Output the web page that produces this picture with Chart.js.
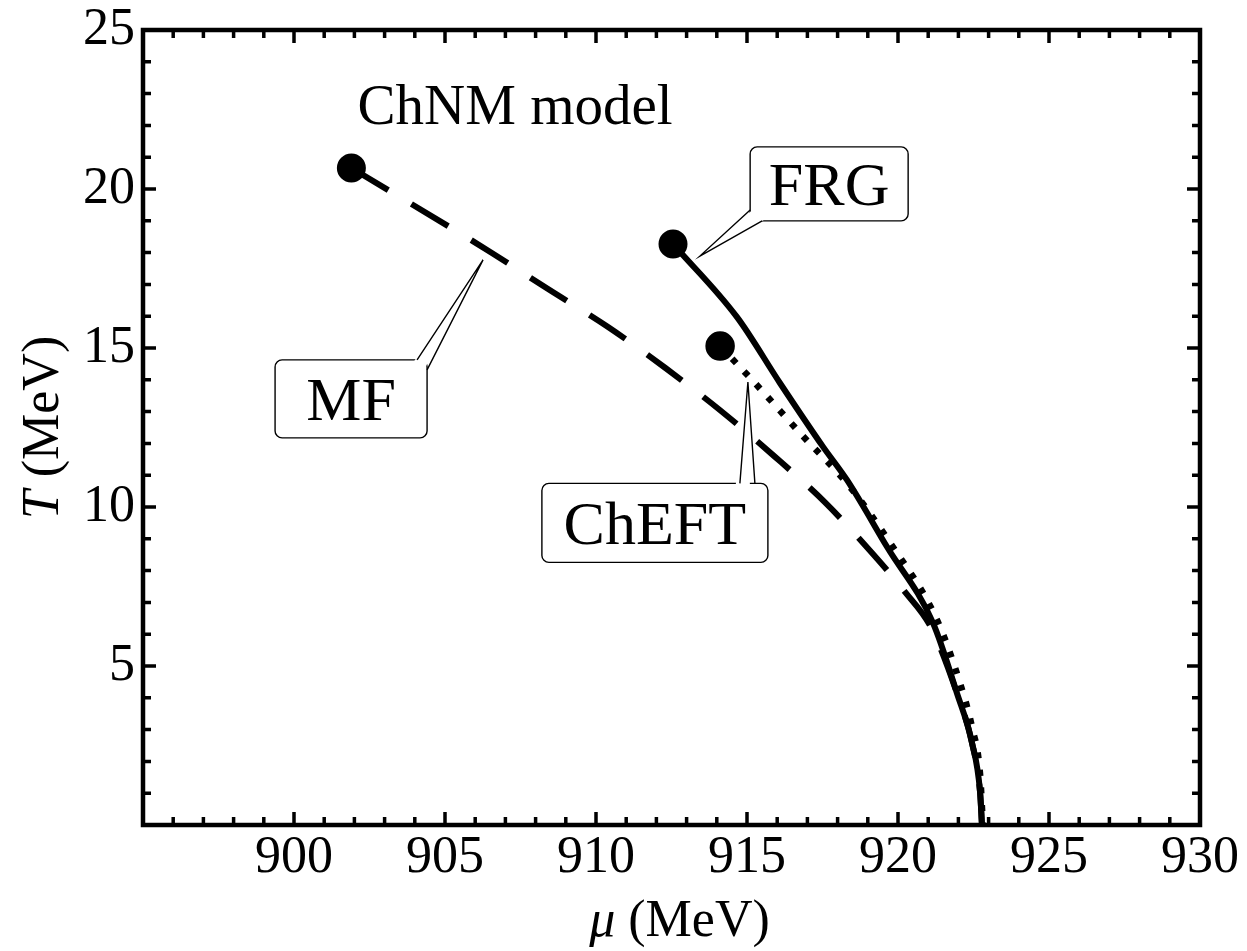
<!DOCTYPE html>
<html>
<head>
<meta charset="utf-8">
<title>ChNM model phase boundary</title>
<script src="https://cdn.jsdelivr.net/npm/chart.js@4.4.0/dist/chart.umd.min.js"></script>
<style>
  html, body { margin: 0; padding: 0; background: #fff; }
  #wrap { width: 1247px; height: 951px; }
</style>
</head>
<body>
<div id="wrap"><canvas id="chart"></canvas></div>
<script>
// Values: chemical potential mu (MeV) vs temperature T (MeV)

// mean-field (dashed)
const mfMu = [901.9, 906.5, 908.4, 910.4, 912.3, 914.1, 915.9, 917.6, 919.2, 920.23, 921.1, 921.95, 922.45, 922.72, 922.78];
const mfT  = [20.66, 18.02, 16.86, 15.66, 14.37, 13.05, 11.60, 10.13, 8.49, 7.33, 6.2, 4.15, 2.58, 1.0, 0];

// functional renormalization group (solid)
const frgMu = [912.55, 914.67, 916.09, 917.52, 918.31, 919.64, 921.16, 921.95, 922.45, 922.72, 922.78];
const frgT  = [18.27, 15.97, 13.90, 11.89, 10.85, 8.74, 6.35, 4.15, 2.58, 1.01, 0];

// chiral EFT (dotted)
const cheftMu = [914.11, 915.26, 916.82, 918.41, 919.74, 921.29, 922.05, 922.45, 922.72, 922.81];
const cheftT  = [15.06, 13.90, 12.26, 10.63, 8.87, 6.45, 4.47, 3.08, 1.57, 0];

// tick labels
const muTicks = [900, 905, 910, 915, 920, 925, 930];
const tTicks = [5, 10, 15, 20, 25];

const SERIF = '"Liberation Serif", "DejaVu Serif", serif';

const toPoints = (xs, ys) => xs.map((x, i) => ({ x: x, y: ys[i] }));

// annotation boxes, anchored in data coordinates
const callouts = [
  { text: 'MF', tip: [906.26, 17.77], box: [901.89, 13.40], half: [76, 39], base: [[66, -39], [76, -29]] },
  { text: 'FRG', tip: [913.44, 17.89], box: [917.72, 20.16], half: [79, 37], base: [[-79, 26], [-67, 37]] },
  { text: 'ChEFT', tip: [915.03, 13.93], box: [911.95, 9.50], half: [113, 39.5], base: [[85, -39.5], [100, -39.5]] }
];

function drawCallout(ctx, xs, ys, c) {
  const tx = xs.getPixelForValue(c.tip[0]);
  const ty = ys.getPixelForValue(c.tip[1]);
  const cx = xs.getPixelForValue(c.box[0]);
  const cy = ys.getPixelForValue(c.box[1]);
  const hw = c.half[0], hh = c.half[1];
  const b = c.base.map(p => [cx + p[0], cy + p[1]]);

  ctx.beginPath();
  ctx.roundRect(cx - hw, cy - hh, 2 * hw, 2 * hh, 7);
  ctx.fillStyle = '#fff';
  ctx.fill();
  ctx.lineWidth = 1.4;
  ctx.strokeStyle = '#000';
  ctx.stroke();

  // white wedge hides the box border under the pointer
  const ib = b.map(p => [p[0] + (cx - p[0]) * 0.05, p[1] + (cy - p[1]) * 0.05]);
  ctx.beginPath();
  ctx.moveTo(tx, ty);
  ctx.lineTo(ib[0][0], ib[0][1]);
  ctx.lineTo(ib[1][0], ib[1][1]);
  ctx.closePath();
  ctx.fill();

  ctx.beginPath();
  ctx.moveTo(b[0][0], b[0][1]);
  ctx.lineTo(tx, ty);
  ctx.lineTo(b[1][0], b[1][1]);
  ctx.stroke();

  ctx.fillStyle = '#000';
  ctx.font = '62px ' + SERIF;
  ctx.textAlign = 'center';
  ctx.textBaseline = 'alphabetic';
  ctx.fillText(c.text, cx, cy + 21);
}

// draws mixed italic / upright text centred on x
function mixedText(ctx, parts, x, y) {
  let w = 0;
  parts.forEach(p => { ctx.font = p.font; w += ctx.measureText(p.text).width; });
  let pos = x - w / 2;
  parts.forEach(p => {
    ctx.font = p.font;
    ctx.fillText(p.text, pos, y);
    pos += ctx.measureText(p.text).width;
  });
}

// frame, inward ticks on all four sides, labels and axis titles
const framePlugin = {
  id: 'frame',
  afterDatasetsDraw(chart) {
    const { ctx, chartArea: a, scales: { x, y } } = chart;
    ctx.save();
    ctx.strokeStyle = '#000';
    ctx.lineCap = 'butt';

    ctx.lineWidth = 3.5;
    for (let v = Math.ceil(x.min); v <= x.max; v++) {
      const px = x.getPixelForValue(v);
      const len = v % 5 === 0 ? 13 : 8;
      ctx.beginPath();
      ctx.moveTo(px, a.bottom); ctx.lineTo(px, a.bottom - len);
      ctx.moveTo(px, a.top); ctx.lineTo(px, a.top + len);
      ctx.stroke();
    }
    for (let v = Math.ceil(y.min); v <= y.max; v++) {
      const py = y.getPixelForValue(v);
      const len = v % 5 === 0 ? 13 : 8;
      ctx.beginPath();
      ctx.moveTo(a.left, py); ctx.lineTo(a.left + len, py);
      ctx.moveTo(a.right, py); ctx.lineTo(a.right - len, py);
      ctx.stroke();
    }

    ctx.lineWidth = 4.5;
    ctx.strokeRect(a.left, a.top, a.right - a.left, a.bottom - a.top);

    ctx.fillStyle = '#000';
    ctx.font = '57px ' + SERIF;
    ctx.textAlign = 'center';
    ctx.textBaseline = 'alphabetic';
    ctx.fillText('ChNM model', x.getPixelForValue(907.32), y.getPixelForValue(22.05));

    callouts.forEach(c => drawCallout(ctx, x, y, c));

    // axis titles
    ctx.fillStyle = '#000';
    ctx.textAlign = 'left';
    ctx.textBaseline = 'alphabetic';
    mixedText(ctx, [
      { text: 'μ', font: 'italic 52px ' + SERIF },
      { text: ' (MeV)', font: '52px ' + SERIF }
    ], (a.left + a.right) / 2 + 8, 936);

    ctx.translate(58, (a.top + a.bottom) / 2);
    ctx.rotate(-Math.PI / 2);
    mixedText(ctx, [
      { text: 'T', font: 'italic 52px ' + SERIF },
      { text: ' (MeV)', font: '52px ' + SERIF }
    ], 0, 0);
    ctx.restore();
  }
};

const startDot = ctx => (ctx.dataIndex === 0 ? 11.5 : 0);

new Chart(document.getElementById('chart'), {
  type: 'line',
  data: {
    datasets: [
      {
        label: 'FRG',
        data: toPoints(frgMu, frgT),
        borderColor: '#000',
        borderWidth: 6
      },
      {
        label: 'ChEFT',
        data: toPoints(cheftMu, cheftT),
        borderColor: '#000',
        borderWidth: 6.5,
        borderDash: [6, 11.5]
      },
      {
        label: 'MF',
        data: toPoints(mfMu, mfT),
        borderColor: '#000',
        borderWidth: 6,
        borderDash: [43, 27]
      }
    ]
  },
  options: {
    responsive: true,
    maintainAspectRatio: false,
    animation: false,
    layout: { padding: { top: 30, right: 47, left: 0, bottom: 0 } },
    plugins: {
      legend: { display: false },
      tooltip: { enabled: false }
    },
    elements: {
      line: { cubicInterpolationMode: 'monotone', fill: false, borderCapStyle: 'butt' },
      point: {
        radius: startDot,
        hoverRadius: startDot,
        backgroundColor: '#000',
        borderWidth: 0
      }
    },
    scales: {
      x: {
        type: 'linear',
        min: 895,
        max: 930,
        grid: { display: false, drawTicks: false },
        border: { display: false },
        ticks: {
          color: '#000',
          font: { family: SERIF, size: 52 },
          padding: 2,
          maxRotation: 0,
          autoSkip: false
        },
        afterBuildTicks: s => { s.ticks = muTicks.map(v => ({ value: v })); },
        afterFit: s => {
          s.height = 126;
          s.paddingLeft = 0; s.paddingRight = 0;
        }
      },
      y: {
        type: 'linear',
        min: 0,
        max: 25,
        grid: { display: false, drawTicks: false },
        border: { display: false },
        ticks: {
          color: '#000',
          font: { family: SERIF, size: 52 },
          padding: 8,
          autoSkip: false
        },
        afterBuildTicks: s => { s.ticks = tTicks.map(v => ({ value: v })); },
        afterFit: s => {
          s.width = 143;
          s.paddingTop = 0; s.paddingBottom = 0;
        }
      }
    }
  },
  plugins: [framePlugin]
});
</script>
</body>
</html>
